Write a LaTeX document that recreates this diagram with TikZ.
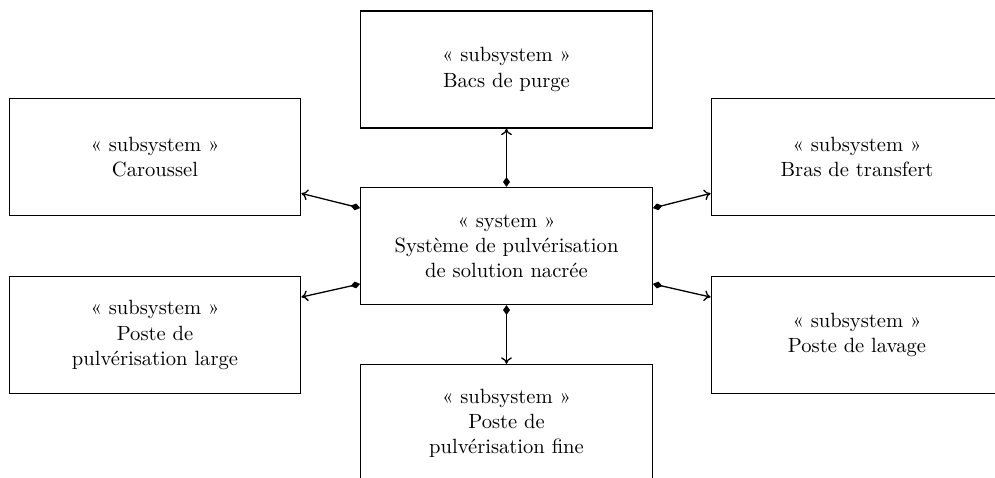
\documentclass[tikz,border=0pt]{standalone}
\usepackage{fontspec}
\usetikzlibrary{arrows.meta}
\begin{document}
\begin{tikzpicture}[x=0.4615pt,y=-0.4615pt,
  box/.style={draw,line width=0.6pt,rectangle,minimum width=134.5pt,minimum height=54pt,align=center,inner sep=0pt,font=\fontsize{9.5}{11.6}\selectfont},
  conn/.style={line width=0.6pt,{Diamond[length=4.5pt,width=3.2pt]}-{To[length=3pt,width=5pt]}}]
\clip (0,0) rectangle (995,478);
\useasboundingbox (0,0) rectangle (995,478);
\node[box] (top) at (506.5,69.5) {« subsystem »\\Bacs de purge};
\node[box] (car) at (155,157) {« subsystem »\\Caroussel};
\node[box] (bras) at (857,157) {« subsystem »\\Bras de transfert};
\node[box] (sys) at (506.5,246) {« system »\\Système de pulvérisation\\de solution nacrée};
\node[box] (large) at (155,335) {« subsystem »\\Poste de\\pulvérisation large};
\node[box] (lav) at (857,335) {« subsystem »\\Poste de lavage};
\node[box] (fine) at (506.5,423) {« subsystem »\\Poste de\\pulvérisation fine};
\draw[conn] (sys.north) -- (top.south);
\draw[conn] (sys.south) -- (fine.north);
\draw[conn] ([yshift=17.5pt]sys.west) -- ([yshift=-16.8pt]car.east);
\draw[conn] ([yshift=-17.5pt]sys.west) -- ([yshift=17.5pt]large.east);
\draw[conn] ([yshift=17.5pt]sys.east) -- ([yshift=-16.8pt]bras.west);
\draw[conn] ([yshift=-17.5pt]sys.east) -- ([yshift=17.5pt]lav.west);
\end{tikzpicture}
\end{document}
